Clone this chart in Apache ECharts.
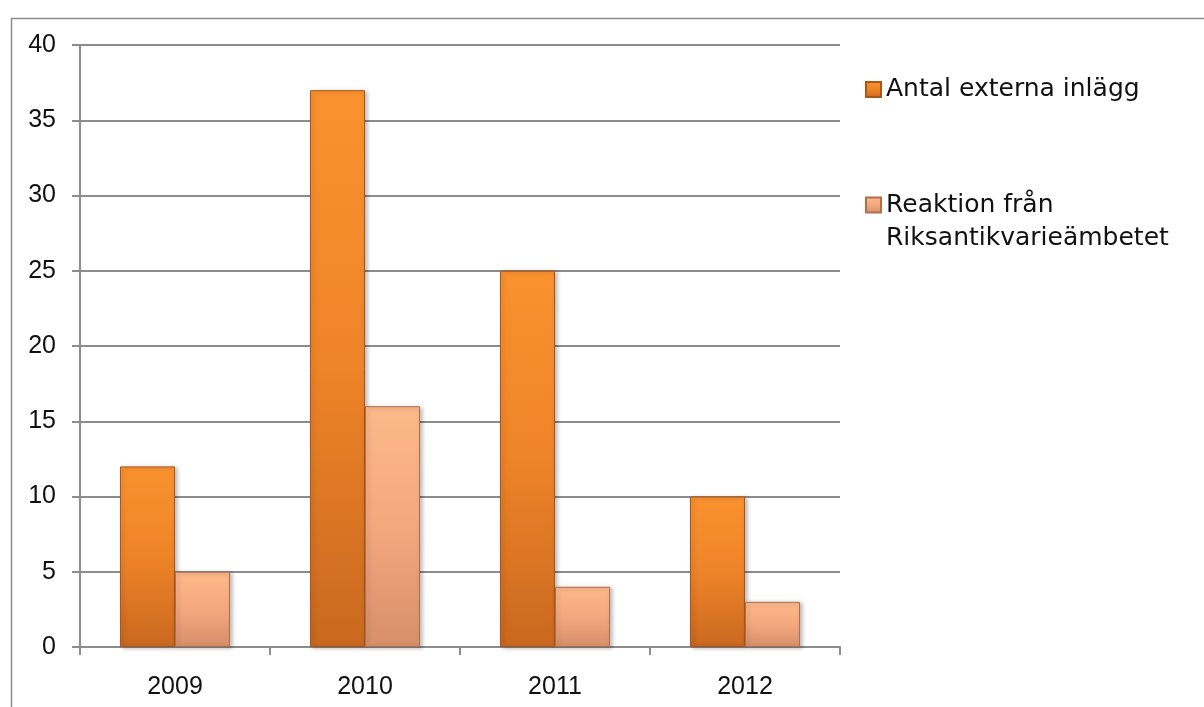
<!DOCTYPE html>
<html>
<head>
<meta charset="utf-8">
<script src="https://cdn.jsdelivr.net/npm/echarts@6/dist/echarts.min.js"></script>
<style>
html,body{margin:0;padding:0;background:#fff;}
#c{width:1204px;height:707px;}
</style>
</head>
<body>
<div id="c"></div>
<script>
const categories = ['2009', '2010', '2011', '2012'];
const externaInlagg = [12, 37, 25, 10];
const reaktion = [5, 16, 4, 3];
const seriesNames = ['Antal externa inlägg', 'Reaktion från\nRiksantikvarieämbetet'];

const FONT = 'Liberation Sans';
const LFONT = 'DejaVu Sans';
const chart = echarts.init(document.getElementById('c'));

function grad(top, mid, bottom) {
  return new echarts.graphic.LinearGradient(0, 0, 0, 1, [
    {offset: 0, color: top},
    {offset: 0.5, color: mid},
    {offset: 1, color: bottom}
  ]);
}

chart.setOption({
  animation: false,
  backgroundColor: '#fff',
  graphic: [{
    type: 'rect',
    left: 9, top: 16,
    shape: {width: 1400, height: 900},
    style: {fill: 'none', stroke: '#8c8c8c', lineWidth: 1.5},
    silent: true, z: 0
  }],
  grid: {left: 80, right: 364, top: 45, bottom: 60},
  legend: [{
    data: [seriesNames[0]],
    orient: 'vertical',
    icon: 'rect',
    left: 865, top: 74.5,
    padding: 0,
    itemWidth: 15, itemHeight: 15, itemGap: 8,
    textStyle: {fontFamily: LFONT, fontSize: 25, color: '#111', lineHeight: 30}
  }, {
    data: [seriesNames[1]],
    orient: 'vertical',
    icon: 'rect',
    left: 865, top: 155.5,
    padding: 0,
    itemWidth: 15, itemHeight: 15, itemGap: 8,
    formatter: function (name) { return ' \n' + name; },
    textStyle: {fontFamily: LFONT, fontSize: 25, color: '#111', lineHeight: 33}
  }],
  xAxis: {
    type: 'category',
    data: categories,
    axisLine: {lineStyle: {color: '#8c8c8c', width: 2}},
    axisTick: {show: true, length: 8, lineStyle: {color: '#8c8c8c', width: 2}},
    axisLabel: {fontFamily: FONT, fontSize: 25, color: '#111', margin: 28}
  },
  yAxis: {
    type: 'value',
    min: 0, max: 40, interval: 5,
    axisLine: {show: true, lineStyle: {color: '#8c8c8c', width: 2}},
    axisTick: {show: true, length: 8, lineStyle: {color: '#8c8c8c', width: 2}},
    splitLine: {lineStyle: {color: '#8c8c8c', width: 2}},
    axisLabel: {fontFamily: FONT, fontSize: 25, color: '#111', margin: 24}
  },
  series: [{
    name: seriesNames[0],
    type: 'bar',
    data: externaInlagg,
    barWidth: 55,
    barGap: '0%',
    itemStyle: {
      color: grad('#fa922f', '#ee8428', '#c9681f'),
      borderColor: '#a9561a',
      borderWidth: 1,
      shadowColor: 'rgba(0,0,0,0.25)',
      shadowBlur: 4,
      shadowOffsetX: 2,
      shadowOffsetY: 1
    }
  }, {
    name: seriesNames[1],
    type: 'bar',
    data: reaktion,
    barWidth: 55,
    barGap: '0%',
    itemStyle: {
      color: grad('#fcb98a', '#f4a87e', '#d68f6a'),
      borderColor: '#b07050',
      borderWidth: 1,
      shadowColor: 'rgba(0,0,0,0.25)',
      shadowBlur: 4,
      shadowOffsetX: 2,
      shadowOffsetY: 1
    }
  }]
});
</script>
</body>
</html>
